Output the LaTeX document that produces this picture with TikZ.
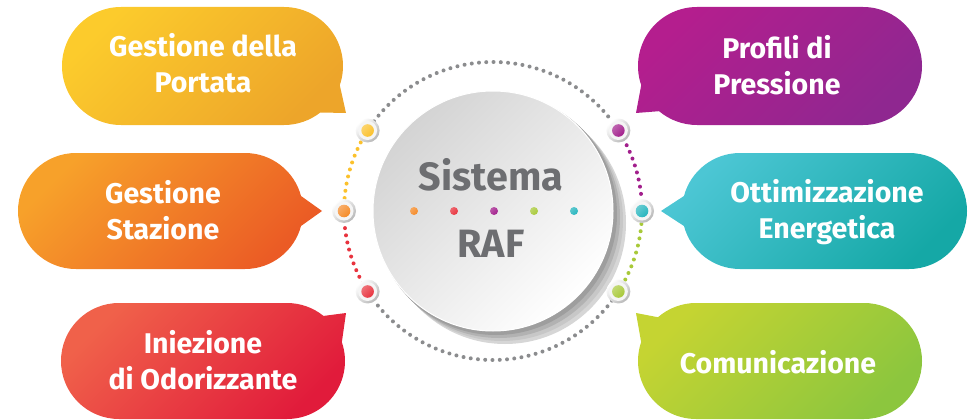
\documentclass[tikz,border=0pt]{standalone}
\usepackage{fontspec}
\setmainfont{Fira Sans}
\usetikzlibrary{calc}
\definecolor{yellowA}{HTML}{FCCB2C}\definecolor{yellowB}{HTML}{EDA52A}
\definecolor{orangeA}{HTML}{F7A12A}\definecolor{orangeB}{HTML}{EB5B25}
\definecolor{redA}{HTML}{F0614A}\definecolor{redB}{HTML}{E11B3B}
\definecolor{purpleA}{HTML}{B41E8E}\definecolor{purpleB}{HTML}{8F2790}
\definecolor{tealA}{HTML}{4CC6D4}\definecolor{tealB}{HTML}{15A8A6}
\definecolor{greenA}{HTML}{C5D432}\definecolor{greenB}{HTML}{8CC63E}
\definecolor{cyellow}{HTML}{FBC12C}\definecolor{corange}{HTML}{F58A27}
\definecolor{cred}{HTML}{E8333E}\definecolor{cpurple}{HTML}{A21F8C}
\definecolor{cteal}{HTML}{26B5BE}\definecolor{cgreen}{HTML}{A8C939}
\definecolor{ringgray}{HTML}{8B8C8E}
\definecolor{textgray}{HTML}{6D6E71}

\begin{document}
\begin{tikzpicture}[x=1pt, y=-1pt,
  bubble/.style 2 args={top color=#1, bottom color=#2, shading angle=45},
  btext/.style={text=white, font=\bfseries\fontsize{28.5}{36}\selectfont, align=center},
  ctext/.style={text=textgray, font=\bfseries\fontsize{39.5}{48}\selectfont, anchor=base}]
  \useasboundingbox (0,0) rectangle (970,420);
  \coordinate (ctr) at (493,211);

  % speech bubbles
  \shade[bubble={yellowA}{yellowB}] (121,7) -- (284,7) arc[start angle=-90, end angle=19, radius=59]
    -- (346,113) -- ($(284,66)+(52:59)$) arc[start angle=52, end angle=90, radius=59]
    -- (121,125) arc[start angle=90, end angle=270, radius=59] -- cycle;
  \shade[bubble={orangeA}{orangeB}] (76,153) -- (245,153) arc[start angle=-90, end angle=-15, radius=58]
    -- (322,211) -- ($(245,211)+(15:58)$) arc[start angle=15, end angle=90, radius=58]
    -- (76,269) arc[start angle=90, end angle=270, radius=58] -- cycle;
  \shade[bubble={redA}{redB}] (119,303) -- (287,303) arc[start angle=-90, end angle=-51, radius=58]
    -- (346,313) -- ($(287,361)+(-19:58)$) arc[start angle=-19, end angle=90, radius=58]
    -- (119,419) arc[start angle=90, end angle=270, radius=58] -- cycle;
  \shade[bubble={purpleA}{purpleB}] (697,7) -- (863,7) arc[start angle=-90, end angle=90, radius=59]
    -- (697,125) arc[start angle=90, end angle=130, radius=59]
    -- (636,113) -- ($(697,66)+(161:59)$) arc[start angle=161, end angle=270, radius=59] -- cycle;
  \shade[bubble={tealA}{tealB}] (740,153) -- (909,153) arc[start angle=-90, end angle=90, radius=58]
    -- (740,269) arc[start angle=90, end angle=165, radius=58]
    -- (661,211) -- ($(740,211)+(195:58)$) arc[start angle=195, end angle=270, radius=58] -- cycle;
  \shade[bubble={greenA}{greenB}] (696,303) -- (864,303) arc[start angle=-90, end angle=90, radius=58]
    -- (696,419) arc[start angle=90, end angle=199, radius=58]
    -- (636,313) -- ($(696,361)+(229:58)$) arc[start angle=229, end angle=270, radius=58] -- cycle;

  \node[btext] (portata) at (203,63) {Gestione della\\Portata};
  \node[btext] (stazione) at (163,210) {Gestione\\Stazione};
  \node[btext] (odorizzante) at (203,360) {Iniezione\\di Odorizzante};
  \node[btext] (pressione) at (777,65) {Profili di\\Pressione};
  \node[btext] (energetica) at (827,212) {Ottimizzazione\\Energetica};
  \node[btext] (comunicazione) at (778,362) {Comunicazione};

  % dotted ring
  \foreach \a in {217,219.8,...,323} \fill[ringgray] ($(ctr)+(\a:149)$) circle[radius=2];
  \foreach \a in {37,39.8,...,143} \fill[ringgray] ($(ctr)+(\a:149)$) circle[radius=2];
  \foreach \a in {185,187.8,...,209} \fill[cyellow] ($(ctr)+(\a:149)$) circle[radius=2];
  \foreach \a in {151,153.8,...,175} \fill[cred] ($(ctr)+(\a:149)$) circle[radius=2];
  \foreach \a in {331,333.8,...,355} \fill[cpurple] ($(ctr)+(\a:149)$) circle[radius=2];
  \foreach \a in {5,7.8,...,29} \fill[cgreen] ($(ctr)+(\a:149)$) circle[radius=2];

  % central disc with its shadow
  \foreach \s/\k in {12/16,9/22,6/30,3/38}
    \fill[black!\k] ($(ctr)+(\s,\s)$) circle[radius=121];
  \shade[top color=black!17, bottom color=white, shading angle=45, draw=white, line width=1pt]
    (ctr) circle[radius=120];

  % points on the ring
  \foreach \a/\c in {212.7/cyellow, 180/corange, 147.3/cred, 327.3/cpurple, 0/cteal, 32.7/cgreen} {
    \shade[top color=white, bottom color=black!28, shading angle=45] ($(ctr)+(\a:149)$) circle[radius=12];
    \fill[black!4] ($(ctr)+(\a:149)$) circle[radius=9.5];
    \shade[top color=\c!70!white, bottom color=\c, shading angle=45] ($(ctr)+(\a:149)$) circle[radius=6.3];
  }

  \node[ctext] (sistema) at (491,190) {Sistema};
  \node[ctext] (raf) at (491,257) {RAF};
  \foreach \c [count=\i] in {corange,cred,cpurple,cgreen,cteal}
    \shade[top color=\c!75!white, bottom color=\c, shading angle=45] (374+40*\i,211) circle[radius=4];
\end{tikzpicture}
\end{document}
